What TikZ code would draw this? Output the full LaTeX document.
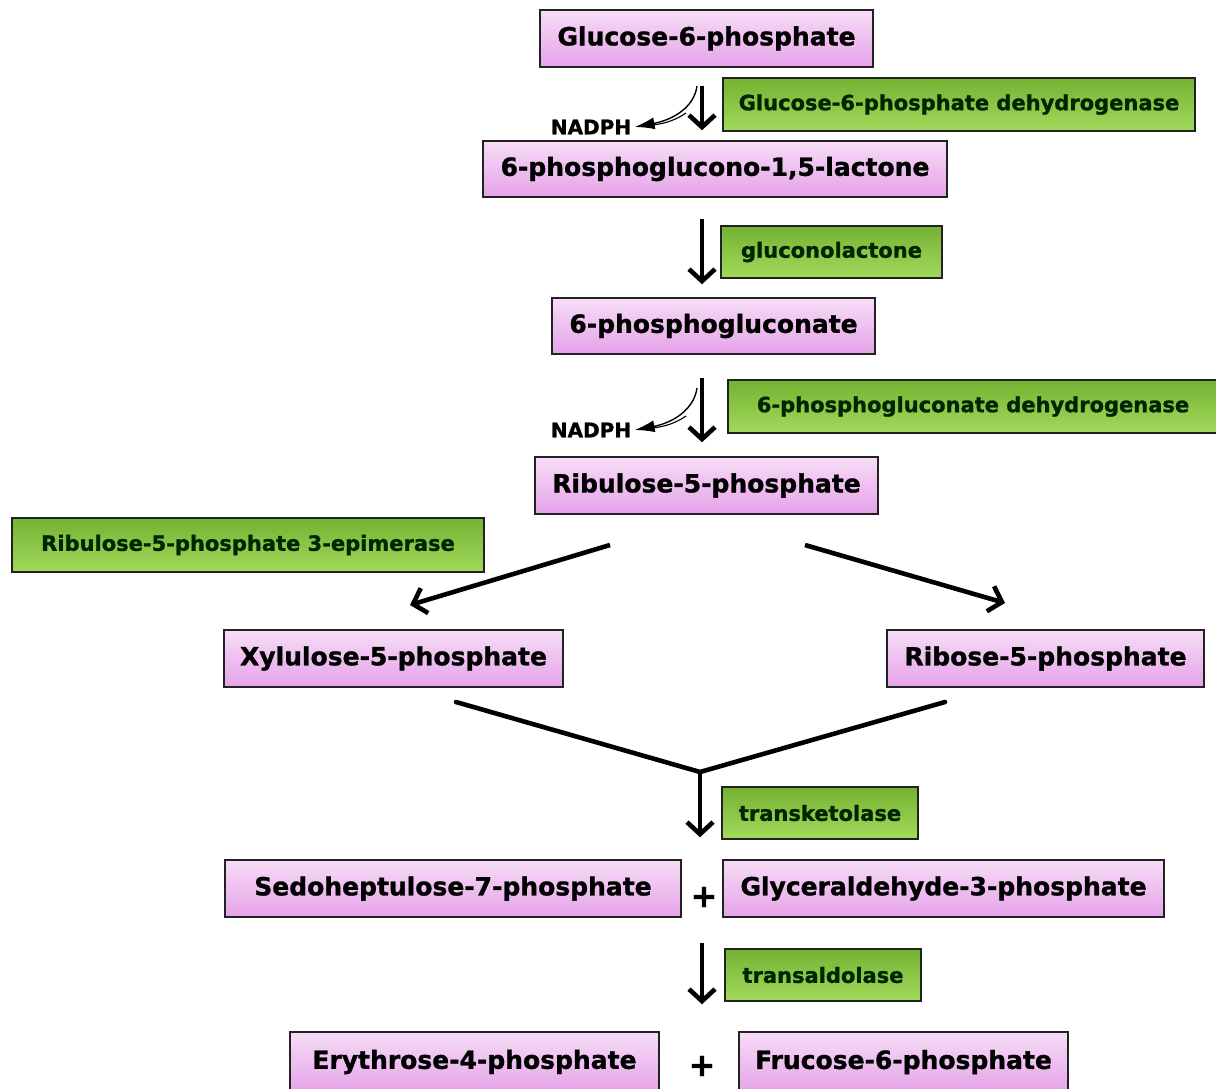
\documentclass[tikz,border=0pt]{standalone}
\usepackage{fontspec}
\setmainfont{DejaVu Sans}[BoldFeatures={FakeBold=1.2}]
\usetikzlibrary{arrows.meta,calc}
\definecolor{pinkT}{HTML}{F6DDF6}
\definecolor{pinkB}{HTML}{E6A2EA}
\definecolor{greenT}{HTML}{74B232}
\definecolor{greenB}{HTML}{A2DA5C}
\definecolor{edge}{HTML}{222222}
\tikzset{
  met/.style={draw=edge, line width=1.5pt, top color=pinkT, bottom color=pinkB,
    inner sep=0pt, font=\fontsize{25}{29}\selectfont\bfseries},
  enz/.style={draw=edge, line width=1.5pt, top color=greenT, bottom color=greenB,
    inner sep=0pt, font=\fontsize{21}{25}\selectfont\bfseries, text=black!85!green},
  arr/.style={line width=4.6pt, -{Straight Barb[length=12pt,width=26pt,line width=4.6pt]}},
  bar/.style={line width=4.6pt, line cap=round},
  nad/.style={font=\fontsize{20}{24}\selectfont\bfseries},
  side/.style={line width=1.4pt, -{Latex[length=20pt,width=12pt]}},
  plus/.style={font=\fontsize{32}{36}\selectfont\bfseries}
}
\begin{document}
\begin{tikzpicture}[x=1pt,y=-1pt]
\useasboundingbox (0,0) rectangle (1216,1089);
\fill[white] (0,0) rectangle (1216,1089);
% metabolites
\node[met, minimum width=333pt, minimum height=57pt] (g6p) at (706.5,38.5) {Glucose-6-phosphate};
\node[met, minimum width=464pt, minimum height=56pt] (lac) at (715,169) {6-phosphoglucono-1,5-lactone};
\node[met, minimum width=323pt, minimum height=56pt] (pg) at (713.5,326) {6-phosphogluconate};
\node[met, minimum width=343pt, minimum height=57pt] (ru5p) at (706.5,485.5) {Ribulose-5-phosphate};
\node[met, minimum width=339pt, minimum height=57pt] (xu5p) at (393.5,658.5) {Xylulose-5-phosphate};
\node[met, minimum width=317pt, minimum height=57pt] (r5p) at (1045.5,658.5) {Ribose-5-phosphate};
\node[met, minimum width=456pt, minimum height=57pt] (s7p) at (453,888.5) {Sedoheptulose-7-phosphate};
\node[met, minimum width=441pt, minimum height=57pt] (gap) at (943.5,888.5) {Glyceraldehyde-3-phosphate};
\node[met, minimum width=369pt, minimum height=60pt] (e4p) at (474.5,1062) {Erythrose-4-phosphate};
\node[met, minimum width=329pt, minimum height=60pt] (f6p) at (903.5,1062) {Frucose-6-phosphate};
% enzymes
\node[enz, minimum width=472pt, minimum height=53pt] (g6pd) at (959,104.5) {Glucose-6-phosphate dehydrogenase};
\node[enz, minimum width=221pt, minimum height=52pt] (glac) at (831.5,252) {gluconolactone};
\node[enz, minimum width=490pt, minimum height=53pt] (pgd) at (973,406.5) {6-phosphogluconate dehydrogenase};
\node[enz, minimum width=472pt, minimum height=54pt] (epi) at (248,545) {Ribulose-5-phosphate 3-epimerase};
\node[enz, minimum width=196pt, minimum height=52pt] (tk) at (820,813) {transketolase};
\node[enz, minimum width=196pt, minimum height=52pt] (ta) at (823,975) {transaldolase};
% cofactors and plus signs
\node[nad] (nad1) at (591,127) {NADPH};
\node[nad] (nad2) at (591,430) {NADPH};
\node[plus] (p1) at (704,897) {+};
\node[plus] (p2) at (702,1066) {+};
% main arrows
\coordinate (ax) at (702,0);
\coordinate (bx) at (700,0);
\draw[arr, shorten <=18pt, shorten >=10pt] (g6p.south -| ax) -- (lac.north -| ax);
\draw[arr, shorten <=21pt, shorten >=13pt] (lac.south -| ax) -- (pg.north -| ax);
\draw[arr, shorten <=23pt, shorten >=14pt] (pg.south -| ax) -- (ru5p.north -| ax);
\draw[arr, shorten <=25pt, shorten >=27pt] (s7p.south -| ax) -- (e4p.north -| ax);
% side arrows to NADPH
\draw[side] (697,86) .. controls (694,108) and (672,120) .. (nad1.east);
\draw[line width=1.1pt] (686,113) .. controls (676,120) and (664,124) .. (652,125);
\draw[side] (697,388) .. controls (694,410) and (672,423) .. (nad2.east);
\draw[line width=1.1pt] (686,416) .. controls (676,423) and (664,427) .. (652,428);
% split from Ru5P
\coordinate (sl) at (610,545);
\coordinate (sr) at (805,545);
\coordinate (el) at (410,605);
\coordinate (er) at (1005,603);
\draw[arr] (sl) -- (el);
\draw[arr] (sr) -- (er);
% merge
\coordinate (ml) at (456,702);
\coordinate (mr) at (945,702);
\coordinate (mj) at (700,772);
\draw[bar, line join=miter] (ml) -- (mj) -- (mr);
\draw[arr, shorten >=22pt] (mj) -- (s7p.north -| bx);
\end{tikzpicture}
\end{document}
